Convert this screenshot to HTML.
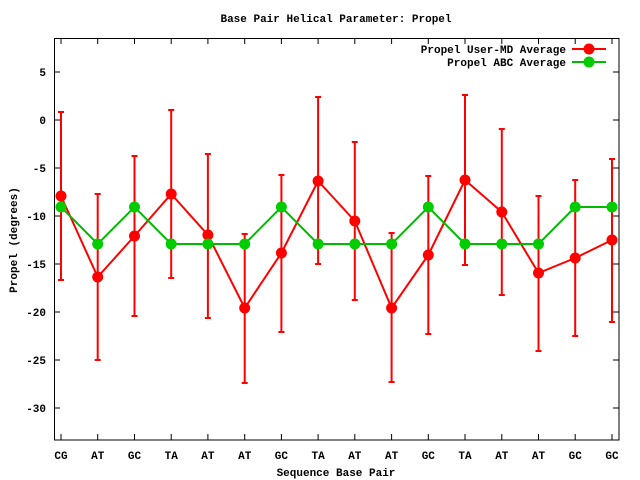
<!DOCTYPE html>
<html><head><style>body{margin:0;background:#fff}svg{display:block}text{font-family:"Liberation Mono","DejaVu Sans Mono",monospace;font-size:11px;font-weight:bold;fill:#000}</style></head>
<body>
<svg width="640" height="480" xmlns="http://www.w3.org/2000/svg">
<text x="336" y="22" text-anchor="middle">Base Pair Helical Parameter: Propel</text>
<text x="336" y="476" text-anchor="middle">Sequence Base Pair</text>
<text transform="translate(17,240) rotate(-90)" text-anchor="middle">Propel (degrees)</text>
<g text-anchor="end">
<text x="46" y="76">5</text><text x="46" y="124">0</text><text x="46" y="172">-5</text><text x="46" y="220">-10</text><text x="46" y="268">-15</text><text x="46" y="316">-20</text><text x="46" y="364">-25</text><text x="46" y="412">-30</text>
</g>
<g stroke="#000" stroke-width="1" fill="none">
<path d="M54 72h6M54 120h6M54 168h6M54 216h6M54 264h6M54 312h6M54 360h6M54 408h6M619 72h-6M619 120h-6M619 168h-6M619 216h-6M619 264h-6M619 312h-6M619 360h-6M619 408h-6"/>
<path d="M61 440v-6M61 38v6M97.7 440v-6M97.7 38v6M134.5 440v-6M134.5 38v6M171.2 440v-6M171.2 38v6M207.9 440v-6M207.9 38v6M244.7 440v-6M244.7 38v6M281.4 440v-6M281.4 38v6M318.1 440v-6M318.1 38v6M354.8 440v-6M354.8 38v6M391.6 440v-6M391.6 38v6M428.3 440v-6M428.3 38v6M465 440v-6M465 38v6M501.8 440v-6M501.8 38v6M538.5 440v-6M538.5 38v6M575.2 440v-6M575.2 38v6M612 440v-6M612 38v6"/>
<rect x="54.5" y="38.5" width="564.5" height="401.5"/>
</g>
<g text-anchor="middle">
<text x="61" y="459">CG</text><text x="97.7" y="459">AT</text><text x="134.5" y="459">GC</text><text x="171.2" y="459">TA</text><text x="207.9" y="459">AT</text><text x="244.7" y="459">AT</text><text x="281.4" y="459">GC</text><text x="318.1" y="459">TA</text><text x="354.8" y="459">AT</text><text x="391.6" y="459">AT</text><text x="428.3" y="459">GC</text><text x="465" y="459">TA</text><text x="501.8" y="459">AT</text><text x="538.5" y="459">AT</text><text x="575.2" y="459">GC</text><text x="612" y="459">GC</text>
</g>
<path stroke="#f00" stroke-width="2" fill="none" d="M61 112V280M58 112h6M58 280h6
M97.7 194V360M94.7 194h6M94.7 360h6
M134.5 156V316M131.5 156h6M131.5 316h6
M171.2 110V278M168.2 110h6M168.2 278h6
M207.9 154V318M204.9 154h6M204.9 318h6
M244.7 234V383M241.7 234h6M241.7 383h6
M281.4 175V332M278.4 175h6M278.4 332h6
M318.1 97V264M315.1 97h6M315.1 264h6
M354.8 142V300M351.8 142h6M351.8 300h6
M391.6 233V382M388.6 233h6M388.6 382h6
M428.3 176V334M425.3 176h6M425.3 334h6
M465 95V265M462 95h6M462 265h6
M501.8 129V295M498.8 129h6M498.8 295h6
M538.5 196V351M535.5 196h6M535.5 351h6
M575.2 180V336M572.2 180h6M572.2 336h6
M612 159V322M609 159h6M609 322h6"/>
<path stroke="#f00" stroke-width="2" fill="none" d="M61 196L97.7 277L134.5 236L171.2 194L207.9 235L244.7 308L281.4 253L318.1 181L354.8 221L391.6 308L428.3 255L465 180L501.8 212L538.5 273L575.2 258L612 240"/>
<g fill="#f00">
<circle cx="61" cy="196" r="5.5"/><circle cx="97.7" cy="277" r="5.5"/><circle cx="134.5" cy="236" r="5.5"/><circle cx="171.2" cy="194" r="5.5"/><circle cx="207.9" cy="235" r="5.5"/><circle cx="244.7" cy="308" r="5.5"/><circle cx="281.4" cy="253" r="5.5"/><circle cx="318.1" cy="181" r="5.5"/><circle cx="354.8" cy="221" r="5.5"/><circle cx="391.6" cy="308" r="5.5"/><circle cx="428.3" cy="255" r="5.5"/><circle cx="465" cy="180" r="5.5"/><circle cx="501.8" cy="212" r="5.5"/><circle cx="538.5" cy="273" r="5.5"/><circle cx="575.2" cy="258" r="5.5"/><circle cx="612" cy="240" r="5.5"/>
</g>
<path stroke="#0b0" stroke-width="2" fill="none" d="M61 207L97.7 244L134.5 207L171.2 244L207.9 244L244.7 244L281.4 207L318.1 244L354.8 244L391.6 244L428.3 207L465 244L501.8 244L538.5 244L575.2 207L612 207"/>
<g fill="#0c0">
<circle cx="61" cy="207" r="5.5"/><circle cx="97.7" cy="244" r="5.5"/><circle cx="134.5" cy="207" r="5.5"/><circle cx="171.2" cy="244" r="5.5"/><circle cx="207.9" cy="244" r="5.5"/><circle cx="244.7" cy="244" r="5.5"/><circle cx="281.4" cy="207" r="5.5"/><circle cx="318.1" cy="244" r="5.5"/><circle cx="354.8" cy="244" r="5.5"/><circle cx="391.6" cy="244" r="5.5"/><circle cx="428.3" cy="207" r="5.5"/><circle cx="465" cy="244" r="5.5"/><circle cx="501.8" cy="244" r="5.5"/><circle cx="538.5" cy="244" r="5.5"/><circle cx="575.2" cy="207" r="5.5"/><circle cx="612" cy="207" r="5.5"/>
</g>
<text x="566" y="53" text-anchor="end">Propel User-MD Average</text>
<text x="566" y="66" text-anchor="end">Propel ABC Average</text>
<g stroke-width="2"><line x1="572" y1="49" x2="606" y2="49" stroke="#f00"/><line x1="572" y1="62" x2="606" y2="62" stroke="#0b0"/></g>
<circle cx="589" cy="49" r="5.5" fill="#f00"/><circle cx="589" cy="62" r="5.5" fill="#0c0"/>
</svg>
</body></html>
